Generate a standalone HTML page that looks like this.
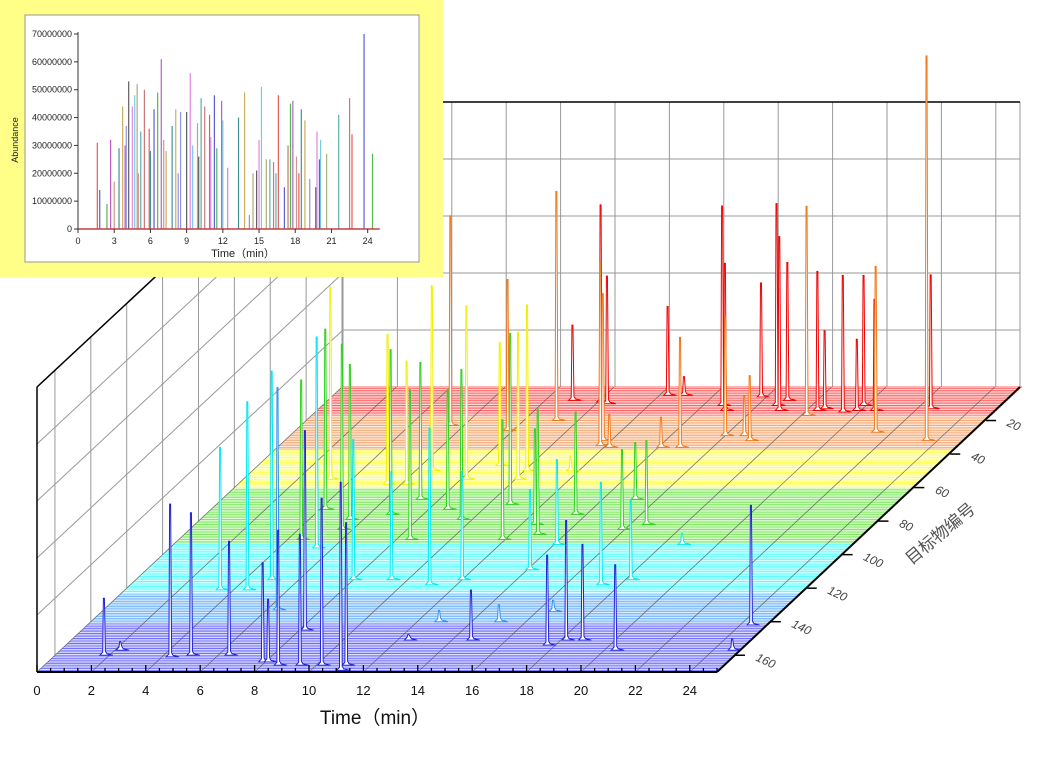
<!DOCTYPE html>
<html><head><meta charset="utf-8">
<style>
body{margin:0;background:#fff;}
svg{display:block;font-family:"Liberation Sans","Noto Sans CJK SC",sans-serif;}
</style></head>
<body>
<svg id="chart" width="1051" height="758" viewBox="0 0 1051 758" xmlns="http://www.w3.org/2000/svg">
<g id="walls"></g>
<g id="floor"></g>
<g id="floorgrid"></g>
<g id="peaks"></g>
<g id="axes"></g>
<g id="inset"></g>
</svg>
<script>
// ---- data ----
const peakRow = [8,9,10,5,11,14,6,11,14,8,17,14,13,15,11,14,13,14,5,
 20,23,26,35,32,27,36,32,29,29,36,36,32,
 50,55,50,55,58,58,47,50,55,
 73,85,79,76,91,73,79,91,82,94,85,82,94,91,67,70,88,76,67,
 96,115,121,121,133,115,115,118,115,109,118,115,145,
 160,157,161,160,160,164,164,166,166,166,166,169,151,154,151,151,157,142,151,140,140,134,157];
const peakTime = [9.0,10.1,10.4,12.3,14.7,15.0,15.8,16.7,17.0,16.9,18.2,18.4,18.6,19.4,19.9,20.5,22.5,19.85,12.9,
 9.2,5.5,7.8,11.8,23.6,21.4,14.8,17.1,16.0,16.7,14.1,12.2,11.7,
 6.6,8.2,10.1,10.1,5.5,6.2,8.9,11.7,3.2,
 4.2,5.6,5.5,6.8,8.5,8.7,9.6,11.9,12.5,14.1,15.9,16.6,18.7,4.5,7.3,10.8,13.0,13.6,15.2,
 5.4,5.0,4.5,3.5,6.4,8.0,9.4,11.0,12.0,14.1,17.3,18.2,8.2,
 1.8,2.2,4.3,5.0,6.4,7.9,8.1,8.6,9.4,10.2,11.1,11.1,14.7,17.7,18.2,18.8,20.4,24.4,12.4,12.8,15.0,16.6,24.7];
const peakHeight = [13.2,34.6,22.4,15.6,35,25.8,20,35.4,30.5,24.2,36.7,24.4,13.7,24,22.8,19.5,23.5,12.5,3.3,
 40.2,36.8,26.5,32.3,67.5,29.1,19.3,11.4,20.9,7,5.3,5.8,25.8,
 32.5,30.4,29.1,25.8,26.3,21.6,21.6,2.6,33.7,
 31.6,32.5,27.2,28.9,26.3,21,26.3,21,16.8,14.9,14,14.7,2,28,24,30,22,18,10,
 37,36.6,33,25,39,24.6,19,27.5,19,14,18,14,35,
 10,1.5,26.8,25,20,17.4,11,23.7,23,29.3,25,33,8.8,15.8,21,16.8,15,21,1,2,3,2,2];
const xTickLabels = [0,2,4,6,8,10,12,14,16,18,20,22,24];
const depthTickLabels = [20,40,60,80,100,120,140,160];
// inset chart (overlay of all chromatograms), times in min, heights in millions
const insetTime = [1.6,1.8,2.4,2.7,3.0,3.4,3.7,4.0,4.2,4.5,4.7,4.9,5.2,5.5,5.9,6.3,6.6,6.9,7.1,7.8,8.1,8.5,9.0,9.3,9.5,9.9,10.2,10.5,10.9,11.3,11.5,11.9,12.4,13.3,13.8,14.2,14.8,15.0,15.2,15.6,15.9,16.2,16.6,17.1,17.6,17.8,18.1,18.5,18.8,19.2,19.7,19.8,20.1,20.6,21.6,22.5,22.7,23.7,24.4,
 3.9,5.0,6.0,7.3,8.3,10.0,11.0,12.0,14.5,16.4,17.4,18.3,20.0];
const insetHeight = [31,14,9,32,17,29,44,37,53,44,48,52,35,50,36,43,49,61,32,37,43,42,42,56,30,38,47,44,41,48,29,46,22,40,49,5,21,32,51,25,25,24,48,15,45,46,26,43,39,18,15,35,32,27,41,47,34,70,27,
 30,20,28,28,20,26,33,39,20,20,30,20,25];
const insetYTicks = [0,10000000,20000000,30000000,40000000,50000000,60000000,70000000];
const insetXTicks = [0,3,6,9,12,15,18,21,24];

const NS='http://www.w3.org/2000/svg';
const NROW=170, PXMIN=27.2, DX=305, DY=285, ZS=5.7, X0=37, Y0=672;
function P(t,r,z){const d=(NROW-r)/NROW;return [X0+t*PXMIN+DX*d, Y0-DY*d-z*ZS];}
function mk(tag,attrs,parent){const e=document.createElementNS(NS,tag);for(const k in attrs)e.setAttribute(k,attrs[k]);parent.appendChild(e);return e;}
function band(r){
 if(r<17)return ['#ff6464','#f00000'];
 if(r<38)return ['#f5aa76','#f07818'];
 if(r<61)return ['#ffff60','#f0f000'];
 if(r<94)return ['#80ea60','#30d020'];
 if(r<124)return ['#60ffff','#00e8f0'];
 if(r<142)return ['#70b4ff','#3090f0'];
 return ['#7070ff','#2020d8'];
}
const walls=document.getElementById('walls');
for(let k=0;k<=5;k++){const y=387-57*k;
 const l=mk('line',{x1:343,y1:y,x2:1020,y2:y,stroke:'#999','stroke-width':1},walls);
 }
for(let t=0;t<=24;t+=2){const x=343+t*PXMIN;
 const l=mk('line',{x1:x,y1:102,x2:x,y2:387,stroke:'#999','stroke-width':1},walls);
 }
mk('line',{x1:1020,y1:102,x2:1020,y2:387,stroke:'#999','stroke-width':1},walls);
for(let r=0;r<=160;r+=20){const [x,y]=P(0,r,0);
 const l=mk('line',{x1:x,y1:y,x2:x,y2:y-DY,stroke:'#999','stroke-width':1},walls);
 }
for(let k=1;k<=5;k++){
 const l=mk('line',{x1:X0,y1:Y0-57*k,x2:343,y2:387-57*k,stroke:'#999','stroke-width':1},walls);
 }
mk('line',{x1:343,y1:102,x2:1020,y2:102,stroke:'#000','stroke-width':1.5},walls);
mk('line',{x1:X0,y1:387,x2:343,y2:102,stroke:'#000','stroke-width':1.5},walls);
mk('line',{x1:X0,y1:387,x2:X0,y2:Y0,stroke:'#000','stroke-width':1.5},walls);
const floor=document.getElementById('floor');
for(let r=0;r<=NROW;r++){const [x1,y]=P(0,r,0);const [x2]=P(25,r,0);
 const l=mk('line',{x1:x1,y1:y,x2:x2,y2:y,stroke:band(r)[0],'stroke-width':1},floor);
 }
const fg=document.getElementById('floorgrid');
for(let t=0;t<=24;t+=2){const [a,b]=P(t,NROW,0);const [c,d]=P(t,0,0);
 const l=mk('line',{x1:a,y1:b,x2:c,y2:d,stroke:'#555','stroke-width':0.8,opacity:0.8},fg);
 }
const pg=document.getElementById('peaks');
const idx=peakRow.map((_,i)=>i).sort((a,b)=>peakRow[a]-peakRow[b]);
idx.forEach(i=>{
 const r=peakRow[i],t=peakTime[i],h=peakHeight[i];
 const [bx,by]=P(t,r,0);const top=by-h*ZS;
 const d=`M${bx-4},${by} L${bx-1.2},${by-3} L${bx-0.5},${top} L${bx+0.5},${top} L${bx+1.5},${by-4} L${bx+3},${by-1.5} L${bx+9},${by}Z`;
 const p=mk('path',{d:d,fill:'#fff',stroke:band(r)[1],'stroke-width':1},pg);
 
});
const ax=document.getElementById('axes');
mk('line',{x1:X0,y1:Y0,x2:X0+25*PXMIN,y2:Y0,stroke:'#000','stroke-width':2},ax);
for(let t=0;t<=25;t+=0.5){const x=X0+t*PXMIN;const major=(t%2===0);
 mk('line',{x1:x,y1:Y0,x2:x,y2:Y0-(major?7:4),stroke:'#000','stroke-width':1.3},ax);}
xTickLabels.forEach(v=>{
 const tx=mk('text',{x:X0+v*PXMIN,y:695,'font-size':13,'text-anchor':'middle',fill:'#111'},ax);
 tx.textContent=v;});
const xt=mk('text',{x:375,y:724,'font-size':19,'text-anchor':'middle',fill:'#111'},ax);
xt.textContent='Time（min）';
mk('line',{x1:X0+25*PXMIN,y1:Y0,x2:1020,y2:387,stroke:'#000','stroke-width':2},ax);
depthTickLabels.forEach(v=>{
 const [x,y]=P(25,v,0);
 mk('line',{x1:x,y1:y,x2:x+10,y2:y,stroke:'#000','stroke-width':1.5},ax);
 const tx=mk('text',{x:x+20,y:y+5,'font-size':12,fill:'#444',transform:`rotate(25 ${x+20} ${y+5})`,'font-style':'italic'},ax);
 tx.textContent=v;});
const dt=mk('text',{x:944,y:538,'font-size':17,'text-anchor':'middle',fill:'#555',transform:'rotate(-40 944 538)'},ax);
dt.textContent='目标物编号';

const ins=document.getElementById('inset');
const bg=mk('rect',{x:0,y:0,width:443,height:277,fill:'#ffff88'},ins);

mk('rect',{x:25,y:15,width:394,height:247,fill:'#fff',stroke:'#999','stroke-width':1},ins);
const IX0=78,IPX=12.07,IY0=229,IPY=195/70;
const cols=['#e04040','#4040d0','#30b030','#b040c0','#d08080','#208080','#c0a040','#8080e0','#404040','#e070e0','#60c0e0','#a0a060','#40a0a0','#c06060'];
for(let i=0;i<insetTime.length;i++){
 const x=IX0+insetTime[i]*IPX, y=IY0-insetHeight[i]*IPY;
 const l=mk('line',{x1:x,y1:IY0,x2:x,y2:y,stroke:cols[i%cols.length],'stroke-width':1.2,opacity:0.85},ins);
 
}
mk('line',{x1:IX0,y1:IY0,x2:IX0+25*IPX,y2:IY0,stroke:'#c04040','stroke-width':1.5},ins);
mk('line',{x1:IX0,y1:IY0,x2:IX0,y2:32,stroke:'#333','stroke-width':1},ins);
insetYTicks.forEach(v=>{const y=IY0-v/1e6*IPY;
 mk('line',{x1:IX0-4,y1:y,x2:IX0,y2:y,stroke:'#333'},ins);
 const tx=mk('text',{x:IX0-6,y:y+3,'font-size':9,'text-anchor':'end',fill:'#222'},ins);
 tx.textContent=v;});
insetXTicks.forEach(v=>{const x=IX0+v*IPX;
 mk('line',{x1:x,y1:IY0,x2:x,y2:IY0+4,stroke:'#333'},ins);
 const tx=mk('text',{x:x,y:IY0+15,'font-size':9,'text-anchor':'middle',fill:'#222'},ins);
 tx.textContent=v;});
const it=mk('text',{x:243,y:257,'font-size':11,'text-anchor':'middle',fill:'#222'},ins);
it.textContent='Time（min）';
const iy=mk('text',{x:18,y:140,'font-size':9,'text-anchor':'middle',fill:'#222',transform:'rotate(-90 18 140)'},ins);
iy.textContent='Abundance';
</script>
</body></html>
